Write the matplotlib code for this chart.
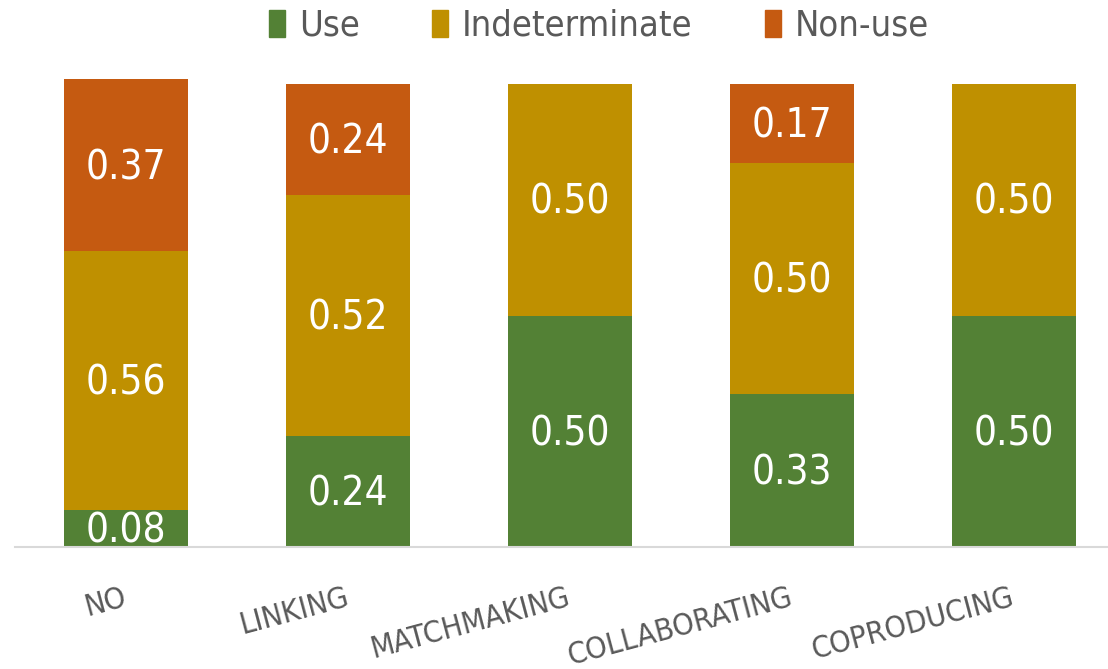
import numpy as np
import matplotlib.pyplot as plt
from matplotlib.patches import Patch
from matplotlib import font_manager as fm

categories = ['NO', 'LINKING', 'MATCHMAKING', 'COLLABORATING', 'COPRODUCING']
use = [0.08, 0.24, 0.50, 0.33, 0.50]
indeterminate = [0.56, 0.52, 0.50, 0.50, 0.50]
nonuse = [0.37, 0.24, 0.00, 0.17, 0.00]

colors = ['#538135', '#BF9000', '#C55A11']
names = ['Use', 'Indeterminate', 'Non-use']

fig = plt.figure(figsize=(11.08, 6.69), dpi=100)
ax = fig.add_axes([15 / 1108, 122 / 669, 1110 / 1108, 463 / 669])

x = np.arange(len(categories))
bottom = np.zeros(len(categories))
for vals, c in zip([use, indeterminate, nonuse], colors):
    vals = np.array(vals)
    ax.bar(x, vals, 0.56, bottom=bottom, color=c, clip_on=False)
    for xi, b, v in zip(x, bottom, vals):
        if v > 0:
            ax.annotate(f'{v:.2f}', (xi, b + v / 2), xytext=(0, -3), textcoords='offset pixels',
                        ha='center', va='center', color='white', fontsize=29,
                        family='DejaVu Sans', stretch='condensed')
    bottom += vals

ax.set_xlim(-0.5, 4.5)
ax.set_ylim(0, 1)
for s in ['top', 'right', 'left']:
    ax.spines[s].set_visible(False)
ax.spines['bottom'].set_color('#D9D9D9')
ax.spines['bottom'].set_linewidth(1.5)
ax.set_yticks([])
ax.set_xticks(x)
ax.set_xticklabels([])
ax.tick_params(axis='x', length=0)

for xi, lab in zip(x, categories):
    ax.annotate(lab, (xi, 0), xytext=(-4, -36), textcoords='offset pixels',
                rotation=15, rotation_mode='anchor', ha='right', va='top',
                fontsize=22, color='#595959', family='DejaVu Sans', stretch='condensed')

handles = [Patch(color=c) for c in colors]
leg = fig.legend(handles, names, loc='center', bbox_to_anchor=(599 / 1108, 1 - 26 / 669),
                 ncol=3, frameon=False,
                 prop=fm.FontProperties(family='DejaVu Sans', stretch='condensed', size=26),
                 handlelength=0.45, handleheight=0.75, handletextpad=0.38,
                 columnspacing=2.0, borderaxespad=0, borderpad=0)
for t in leg.get_texts():
    t.set_color('#595959')

fig.savefig('out.png', dpi=100)
